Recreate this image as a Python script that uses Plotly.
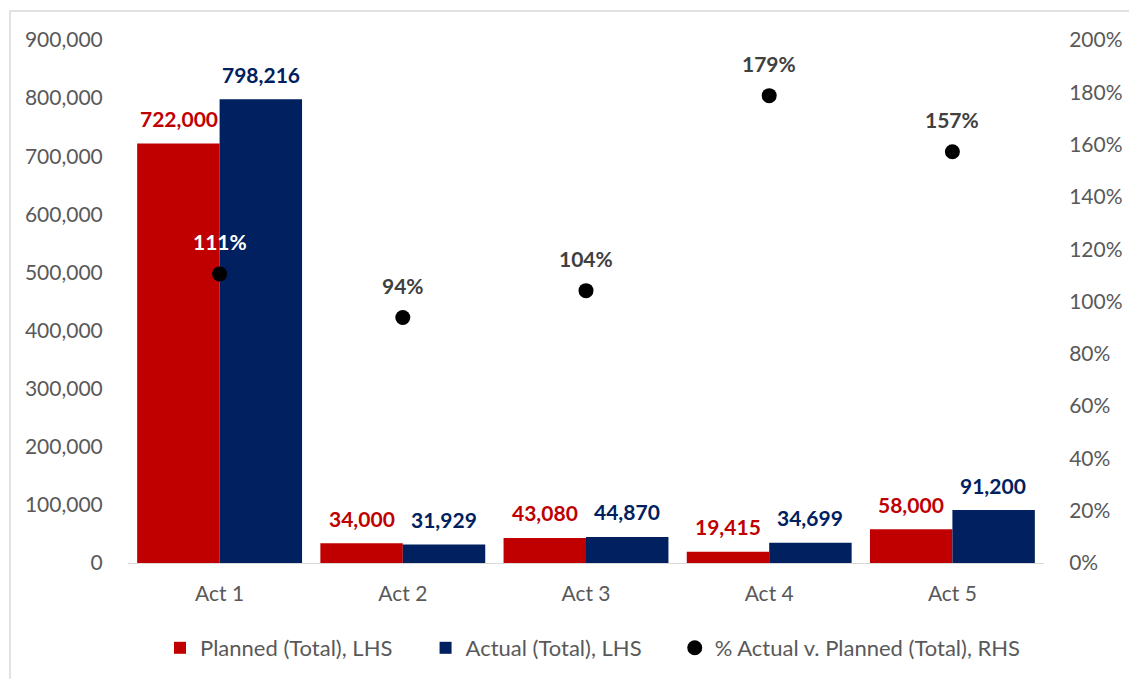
import plotly.graph_objects as go

# Planned vs actual totals per act, with the actual/planned ratio on the right axis
acts = ["Act 1", "Act 2", "Act 3", "Act 4", "Act 5"]
planned = [722000, 34000, 43080, 19415, 58000]
actual = [798216, 31929, 44870, 34699, 91200]
pct_actual_v_planned = [1.1056, 0.9391, 1.0415, 1.7872, 1.5724]

left_ticks = [0, 100000, 200000, 300000, 400000, 500000, 600000, 700000, 800000, 900000]
right_ticks = [0, 0.2, 0.4, 0.6, 0.8, 1.0, 1.2, 1.4, 1.6, 1.8, 2.0]

RED = "#C00000"
NAVY = "#002060"
GREY = "#595959"
FONT = "Lato"
PAD = "\u00a0" * 5  # extra room between legend entries

W, H = 1129, 679
ML, MR, MT, MB = 128, 85, 40, 116

fig = go.Figure()
fig.add_trace(go.Bar(x=acts, y=planned, name="Planned (Total), LHS" + PAD,
                     marker=dict(color=RED, line=dict(width=0))))
fig.add_trace(go.Bar(x=acts, y=actual, name="Actual (Total), LHS" + PAD,
                     marker=dict(color=NAVY, line=dict(width=0))))
fig.add_trace(go.Scatter(x=acts, y=pct_actual_v_planned, yaxis="y2", mode="markers",
                         name="% Actual v. Planned (Total), RHS",
                         marker=dict(color="black", size=15, symbol="circle")))

annotations = []
for a, p, q in zip(acts, planned, actual):
    annotations.append(dict(x=a, y=p, xref="x", yref="y", text=f"<b>{p:,}</b>",
                            showarrow=False, xshift=-41, yshift=25, yanchor="middle",
                            font=dict(family=FONT, size=21, color=RED)))
    annotations.append(dict(x=a, y=q, xref="x", yref="y", text=f"<b>{q:,}</b>",
                            showarrow=False, xshift=41, yshift=25, yanchor="middle",
                            font=dict(family=FONT, size=21, color=NAVY)))
for i, (a, r) in enumerate(zip(acts, pct_actual_v_planned)):
    annotations.append(dict(x=a, y=r, xref="x", yref="y2", text=f"<b>{round(r * 100)}%</b>",
                            showarrow=False, yshift=32, yanchor="middle",
                            font=dict(family=FONT, size=21,
                                      color="white" if i == 0 else "#404040")))

pw = W - ML - MR
ph = H - MT - MB
def px_x(p):
    return (p - ML) / pw
def px_y(p):
    return (H - MB - p) / ph

fig.update_layout(
    width=W, height=H,
    margin=dict(l=ML, r=MR, t=MT, b=MB, autoexpand=False),
    paper_bgcolor="white", plot_bgcolor="white",
    barmode="group", bargap=0.1, bargroupgap=0,
    font=dict(family=FONT, size=19, color=GREY),
    xaxis=dict(showgrid=False, showline=True, linecolor="#d9d9d9", linewidth=1,
               ticks="outside", ticklen=12, tickcolor="rgba(0,0,0,0)",
               tickfont=dict(size=21, color=GREY), automargin=False),
    yaxis=dict(range=[0, 900000], tickvals=left_ticks, tickformat=",",
               showgrid=False, zeroline=False, showline=False,
               ticks="outside", ticklen=20, tickcolor="rgba(0,0,0,0)",
               tickfont=dict(size=21, color=GREY), automargin=False),
    yaxis2=dict(range=[0, 2.0], tickvals=right_ticks, tickformat=".0%",
                overlaying="y", side="right",
                showgrid=False, zeroline=False, showline=False,
                ticks="outside", ticklen=20, tickcolor="rgba(0,0,0,0)",
                tickfont=dict(size=21, color=GREY), automargin=False),
    legend=dict(orientation="h", x=px_x(593), xanchor="center", y=px_y(648), yanchor="middle",
                font=dict(size=22, color=GREY), itemwidth=30, traceorder="normal"),
    annotations=annotations,
    shapes=[dict(type="rect", xref="paper", yref="paper",
                 x0=px_x(10), y0=px_y(700), x1=px_x(1150), y1=px_y(11),
                 line=dict(color="#d9d9d9", width=1.5), layer="below")],
)

fig.write_html("out.html")
